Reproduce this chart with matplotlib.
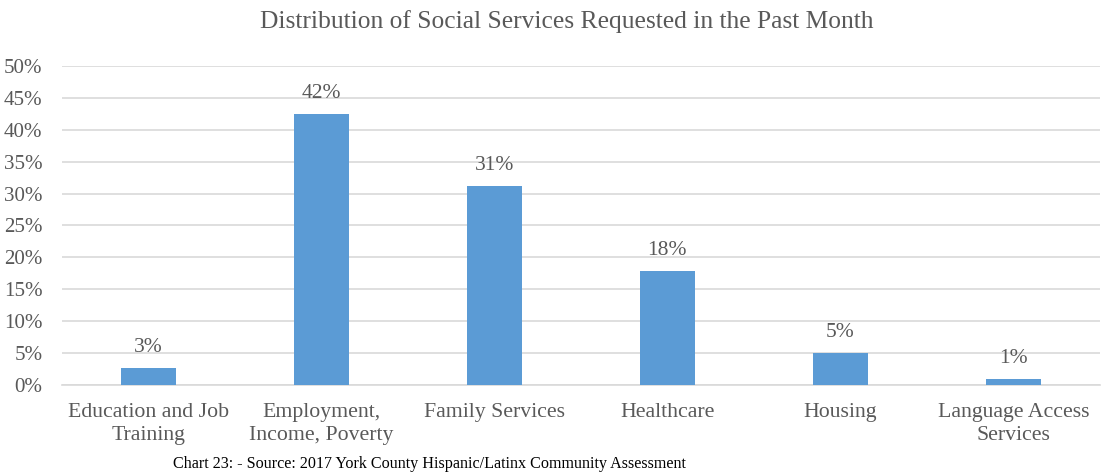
import matplotlib
matplotlib.use("Agg")
import matplotlib.pyplot as plt
from matplotlib.ticker import FuncFormatter, MultipleLocator

categories = [
    "Education and Job\nTraining",
    "Employment,\nIncome, Poverty",
    "Family Services",
    "Healthcare",
    "Housing",
    "Language Access\nServices",
]
shares = [0.027, 0.424, 0.312, 0.179, 0.050, 0.009]

title = "Distribution of Social Services Requested in the Past Month"
source = "Chart 23: - Source: 2017 York County Hispanic/Latinx Community Assessment"

bar_color = "#5B9BD5"
text_color = "#595959"
grid_color = "#D9D9D9"

plt.rcParams["font.family"] = ["Liberation Serif", "DejaVu Serif"]

fig = plt.figure(figsize=(11.02, 4.75), dpi=100)
ax = fig.add_axes([0.0563, 0.1895, 0.9417, 0.6716])

x = list(range(len(categories)))
ax.bar(x, shares, width=0.32, color=bar_color, zorder=3)

for xi, v in zip(x, shares):
    ax.annotate(f"{round(v * 100):.0f}%", (xi, v), xytext=(0, 8),
                textcoords="offset points", ha="center", va="bottom",
                fontsize=15.5, color=text_color)

ax.set_xlim(-0.5, len(categories) - 0.5)
ax.set_ylim(0, 0.5)
ax.yaxis.set_major_locator(MultipleLocator(0.05))
ax.yaxis.set_major_formatter(FuncFormatter(lambda v, _: f"{v * 100:.0f}%"))
ax.grid(axis="y", color=grid_color, linewidth=1.2, zorder=0)

for side in ("top", "right", "left"):
    ax.spines[side].set_visible(False)
ax.spines["bottom"].set_color(grid_color)
ax.spines["bottom"].set_linewidth(1.2)

ax.set_xticks(x)
ax.set_xticklabels(categories, fontsize=15.7, color=text_color, linespacing=1.26)
ax.tick_params(axis="y", length=0, labelsize=15.1, labelcolor=text_color, pad=14)
ax.tick_params(axis="x", length=0, labelcolor=text_color, pad=13)

fig.text(0.514, 0.955, title, ha="center", va="center", fontsize=18.4, color=text_color)
fig.text(0.157, 0.023, source, ha="left", va="center", fontsize=11.6, color="black")

fig.savefig("out.png", dpi=100)
